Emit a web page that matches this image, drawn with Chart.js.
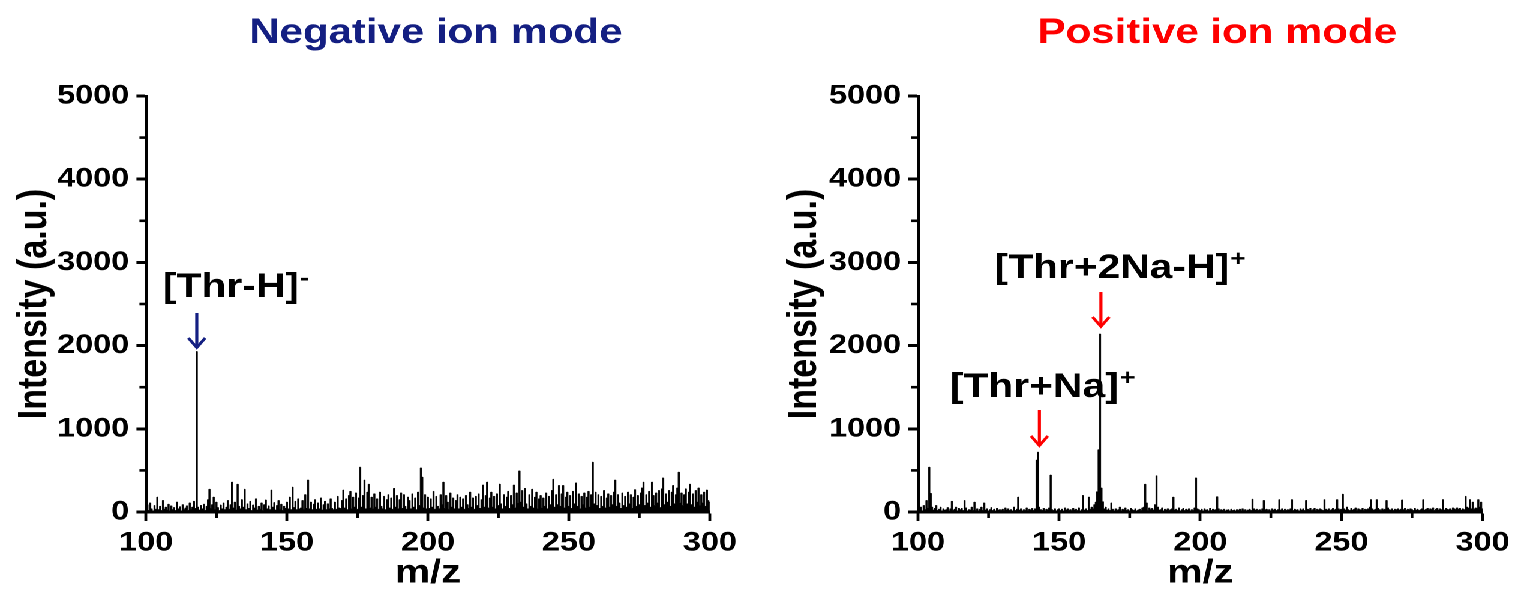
<!DOCTYPE html>
<html>
<head>
<meta charset="utf-8">
<script src="https://cdn.jsdelivr.net/npm/chart.js@4.4.1/dist/chart.umd.min.js"></script>
<style>
  html, body { margin: 0; padding: 0; background: #fff; width: 1517px; height: 593px; overflow: hidden; }
  /* the two spectra are laid out on a 1264px stage that is widened to 1517px */
  #stage { position: absolute; left: 0; top: 0; width: 1264.17px; height: 593px; transform: scaleX(1.2); transform-origin: 0 0; }
  #stage canvas { position: absolute; top: 0; }
  #negChart { left: 0; }
  #posChart { left: 640px; }
</style>
</head>
<body>
<div id="stage">
  <canvas id="negChart" width="620" height="593"></canvas>
  <canvas id="posChart" width="624" height="593"></canvas>
</div>
<script>
// m/z grid of both spectra: 100 to 300 in steps of 0.5
const MZ_START = 100;
const MZ_STEP = 0.5;

// Negative ion mode intensities (a.u.), one row per 10 m/z
const negIntensity = [
  30, 90, 20, 110, 40, 15, 80, 35, 180, 30, 70, 20, 140, 35, 60, 25, 95, 10, 75, 30,
  55, 20, 120, 40, 65, 15, 90, 30, 50, 75, 20, 110, 35, 60, 130, 45, 1930, 60, 25, 80,
  40, 95, 20, 70, 150, 275, 45, 90, 180, 30, 120, 55, 20, 85, 40, 110, 30, 60, 140, 35,
  90, 360, 50, 120, 25, 335, 70, 40, 150, 60, 275, 30, 100, 45, 130, 20, 85, 50, 160, 25,
  70, 35, 110, 20, 90, 145, 40, 75, 30, 265, 60, 115, 25, 80, 140, 35, 95, 20, 70, 45,
  120, 40, 180, 30, 300, 55, 130, 30, 160, 40, 50, 140, 35, 210, 45, 385, 40, 120, 30, 95,
  150, 35, 110, 40, 170, 25, 90, 130, 30, 100, 40, 160, 45, 30, 120, 35, 190, 50, 45, 140,
  265, 50, 160, 30, 200, 250, 40, 180, 60, 230, 35, 170, 540, 60, 200, 385, 40, 240, 335, 50,
  180, 40, 220, 60, 160, 35, 240, 70, 40, 190, 30, 150, 210, 50, 170, 35, 285, 60, 200, 40,
  150, 230, 45, 210, 70, 35, 180, 140, 40, 220, 60, 170, 30, 240, 80, 530, 420, 50, 210, 40,
  180, 45, 160, 60, 250, 35, 190, 70, 40, 210, 90, 360, 45, 200, 120, 35, 230, 60, 170, 40,
  140, 210, 40, 180, 60, 160, 35, 200, 90, 45, 240, 60, 170, 35, 190, 80, 220, 45, 150, 325,
  60, 200, 360, 50, 170, 240, 60, 190, 40, 220, 80, 336, 100, 40, 210, 70, 180, 250, 45, 200,
  90, 325, 50, 230, 110, 495, 120, 260, 60, 285, 100, 40, 210, 70, 275, 50, 180, 240, 40, 160,
  200, 50, 170, 70, 230, 40, 190, 90, 260, 395, 60, 210, 90, 320, 70, 220, 320, 50, 180, 240,
  70, 200, 45, 250, 100, 350, 70, 220, 40, 190, 90, 230, 50, 180, 250, 60, 210, 600, 100, 240,
  80, 210, 45, 190, 70, 260, 50, 170, 220, 60, 200, 90, 240, 385, 70, 210, 110, 45, 230, 80,
  190, 60, 240, 100, 210, 45, 180, 270, 70, 200, 90, 230, 290, 360, 80, 210, 110, 250, 60, 360,
  200, 80, 230, 110, 260, 55, 280, 410, 90, 220, 120, 260, 70, 240, 320, 100, 210, 290, 480, 110,
  230, 80, 210, 280, 100, 240, 335, 90, 220, 60, 260, 120, 290, 80, 210, 110, 240, 70, 265, 140, 120
];

// Positive ion mode intensities (a.u.), one row per 10 m/z
const posIntensity = [
  40, 20, 60, 15, 80, 30, 140, 50, 540, 225, 60, 25, 45, 80, 20, 35, 60, 15, 40, 25,
  30, 55, 15, 40, 130, 20, 35, 60, 15, 45, 30, 45, 20, 140, 50, 15, 30, 25, 60, 20,
  120, 20, 40, 15, 35, 60, 20, 110, 25, 40, 15, 30, 55, 20, 35, 15, 45, 25, 30, 20,
  35, 15, 50, 25, 40, 20, 30, 15, 60, 20, 35, 180, 25, 40, 15, 30, 20, 50, 15, 35,
  25, 45, 20, 40, 625, 720, 60, 30, 20, 45, 15, 35, 25, 50, 445, 30, 20, 40, 15, 30,
  40, 20, 35, 15, 50, 25, 40, 20, 30, 15, 45, 25, 35, 20, 50, 15, 30, 200, 25, 40,
  20, 180, 35, 60, 40, 90, 120, 245, 750, 2140, 290, 125, 40, 60, 25, 40, 20, 110, 35, 15,
  40, 20, 30, 60, 15, 35, 25, 50, 20, 30, 15, 45, 30, 20, 40, 15, 25, 35, 20, 50,
  60, 335, 110, 20, 50, 30, 45, 25, 90, 437, 60, 25, 30, 50, 15, 35, 25, 40, 20, 30,
  40, 180, 25, 35, 20, 50, 15, 30, 45, 20, 35, 25, 40, 15, 30, 20, 50, 410, 40, 30,
  20, 35, 15, 40, 25, 30, 15, 45, 20, 35, 25, 30, 185, 40, 15, 30, 20, 35, 15, 25,
  30, 15, 35, 20, 25, 15, 30, 20, 35, 15, 40, 20, 30, 15, 25, 35, 20, 155, 40, 25,
  35, 20, 30, 15, 40, 140, 25, 35, 20, 30, 15, 40, 25, 35, 20, 30, 150, 25, 40, 20,
  35, 20, 30, 25, 40, 150, 20, 35, 25, 30, 15, 40, 25, 40, 20, 140, 35, 25, 45, 20,
  30, 45, 20, 35, 25, 40, 30, 20, 150, 35, 25, 40, 20, 30, 45, 25, 35, 150, 40, 25,
  35, 215, 40, 25, 60, 30, 20, 45, 25, 35, 50, 20, 40, 30, 25, 45, 20, 35, 30, 40,
  60, 150, 40, 25, 35, 150, 45, 30, 20, 40, 25, 35, 140, 50, 30, 25, 40, 20, 35, 30,
  40, 25, 35, 145, 30, 45, 20, 35, 25, 40, 30, 20, 45, 25, 35, 20, 30, 40, 150, 25,
  35, 45, 25, 40, 30, 50, 20, 35, 45, 25, 40, 30, 150, 25, 45, 35, 30, 40, 25, 50,
  40, 30, 50, 35, 45, 25, 40, 30, 190, 60, 50, 150, 40, 120, 35, 50, 45, 150, 60, 120, 40
];

// Axis ticks
const yTicks = [0, 1000, 2000, 3000, 4000, 5000];
const yMinorTicks = [500, 1500, 2500, 3500, 4500];
const xTicks = [100, 150, 200, 250, 300];
const xMinorTicks = [125, 175, 225, 275];

// Ion assignments
const negIons = [{ label: '[Thr-H]', charge: '-', mz: 118 }];
const posIons = [
  { label: '[Thr+Na]', charge: '+', mz: 143 },
  { label: '[Thr+2Na-H]', charge: '+', mz: 164.8 }
];

// Where each assignment label and its arrow sit (m/z, intensity units)
const negCallouts = [{ textMz: 106, textY: 2584, arrowTop: 2392, arrowTip: 1959 }];
const posCallouts = [
  { textMz: 111.3, textY: 1382, arrowTop: 1226, arrowTip: 781 },
  { textMz: 127.1, textY: 2812, arrowTop: 2644, arrowTip: 2212 }
];

const FONT = "'Liberation Sans', Arial, Helvetica, sans-serif";
const NAVY = '#141f82';
const RED = '#fe0000';

Chart.defaults.font.family = FONT;
Chart.defaults.color = '#000';

// Panel heading, centred a little right of the plot area
const panelTitle = {
  id: 'panelTitle',
  afterDraw(chart, args, opts) {
    const { ctx, chartArea } = chart;
    ctx.save();
    ctx.fillStyle = opts.color;
    ctx.font = `bold 35px ${FONT}`;
    ctx.textAlign = 'center';
    ctx.textBaseline = 'alphabetic';
    ctx.fillText(opts.text, (chartArea.left + chartArea.right) / 2 + opts.shift, 43);
    ctx.restore();
  }
};

// Short outward ticks between the labelled ones
const minorTicks = {
  id: 'minorTicks',
  afterDraw(chart) {
    const { ctx, chartArea, scales: { x, y } } = chart;
    ctx.save();
    ctx.strokeStyle = '#000';
    ctx.lineWidth = 2.6;
    for (const v of yMinorTicks) {
      const py = y.getPixelForValue(v);
      ctx.beginPath();
      ctx.moveTo(chartArea.left, py);
      ctx.lineTo(chartArea.left - 5.5, py);
      ctx.stroke();
    }
    ctx.lineWidth = 2.3;
    for (const v of xMinorTicks) {
      const px = x.getPixelForValue(v);
      ctx.beginPath();
      ctx.moveTo(px, chartArea.bottom);
      ctx.lineTo(px, chartArea.bottom + 6);
      ctx.stroke();
    }
    ctx.restore();
  }
};

// Ion labels with a charge superscript and a downward arrow onto the peak
const peakCallouts = {
  id: 'peakCallouts',
  afterDatasetsDraw(chart, args, opts) {
    const { ctx, scales: { x, y } } = chart;
    ctx.save();
    opts.ions.forEach((ion, i) => {
      const c = opts.callouts[i];
      const ax = x.getPixelForValue(ion.mz);
      const yTop = y.getPixelForValue(c.arrowTop);
      const yTip = y.getPixelForValue(c.arrowTip);
      ctx.strokeStyle = opts.arrowColor;
      ctx.lineWidth = 2.6;
      ctx.lineCap = 'butt';
      ctx.lineJoin = 'miter';
      ctx.beginPath();
      ctx.moveTo(ax, yTop);
      ctx.lineTo(ax, yTip - 1.5);
      ctx.stroke();
      ctx.beginPath();
      ctx.moveTo(ax - 7, yTip - 11);
      ctx.lineTo(ax, yTip - 1.5);
      ctx.lineTo(ax + 7, yTip - 11);
      ctx.stroke();

      const tx = x.getPixelForValue(c.textMz);
      const ty = y.getPixelForValue(c.textY);
      ctx.fillStyle = '#000';
      ctx.textAlign = 'left';
      ctx.textBaseline = 'alphabetic';
      ctx.font = `bold 34px ${FONT}`;
      ctx.fillText(ion.label, tx, ty);
      const w = ctx.measureText(ion.label).width;
      ctx.font = `bold 22px ${FONT}`;
      ctx.fillText(ion.charge, tx + w + 1, ty - 12);
    });
    ctx.restore();
  }
};

function drawSpectrum(canvasId, intensity, title, color, titleShift, yAxisWidth, padRight, ions, callouts, yTitleGap) {
  const points = intensity.map((v, i) => ({ x: MZ_START + i * MZ_STEP, y: v }));
  return new Chart(document.getElementById(canvasId), {
    type: 'line',
    data: {
      datasets: [{
        data: points,
        borderColor: '#000',
        backgroundColor: '#000',
        borderWidth: 0.5,
        pointRadius: 0,
        stepped: 'middle',
        fill: 'origin'
      }]
    },
    options: {
      responsive: false,
      animation: false,
      devicePixelRatio: 2,
      layout: { padding: { left: 0, right: padRight, top: 96, bottom: 0 } },
      plugins: {
        legend: { display: false },
        tooltip: { enabled: false },
        title: { display: false },
        panelTitle: { text: title, color: color, shift: titleShift },
        peakCallouts: { ions: ions, callouts: callouts, arrowColor: color }
      },
      scales: {
        x: {
          type: 'linear',
          min: 100,
          max: 300,
          afterBuildTicks: s => { s.ticks = xTicks.map(v => ({ value: v })); },
          afterFit: s => { s.height = 81; },
          grid: { display: true, drawOnChartArea: false, drawTicks: true, tickLength: 9, tickWidth: 2.4, tickColor: '#000' },
          border: { display: true, color: '#000', width: 3 },
          ticks: { color: '#000', font: { family: FONT, size: 27, weight: 'bold' }, padding: 6, maxRotation: 0, autoSkip: false, callback: v => String(v) },
          title: { display: true, text: 'm/z', color: '#000', font: { family: FONT, size: 33, weight: 'bold', lineHeight: 1.2 }, padding: { top: 0, bottom: 0 } }
        },
        y: {
          type: 'linear',
          min: 0,
          max: 5000,
          afterBuildTicks: s => { s.ticks = yTicks.map(v => ({ value: v })); },
          afterFit: s => { s.width = yAxisWidth; },
          grid: { display: true, drawOnChartArea: false, drawTicks: true, tickLength: 8, tickWidth: 3, tickColor: '#000' },
          border: { display: true, color: '#000', width: 2.5 },
          ticks: { color: '#000', font: { family: FONT, size: 27, weight: 'bold' }, padding: 6, autoSkip: false, callback: v => String(v) },
          title: { display: true, text: 'Intensity (a.u.)', color: '#000', font: { family: FONT, size: 34, weight: 'bold', lineHeight: 1.2 }, padding: { top: yTitleGap, bottom: 0 } }
        }
      }
    },
    plugins: [minorTicks, peakCallouts, panelTitle]
  });
}

drawSpectrum('negChart', negIntensity, 'Negative ion mode', NAVY, 6.7, 121.7, 25, negIons, negCallouts, 8.6);
drawSpectrum('posChart', posIntensity, 'Positive ion mode', RED, 14.2, 125, 25.7, posIons, posCallouts, 10.4);
</script>
</body>
</html>
